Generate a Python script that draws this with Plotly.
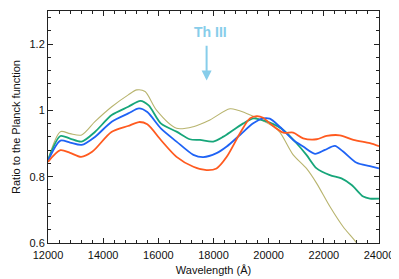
import plotly.graph_objects as go

# Wavelength (Å) and ratio values for each series
orange_x = [12000, 12450, 12800, 13200, 13600, 14300, 14900, 15300, 15600, 16100, 16660, 17270, 17750, 18110, 18480, 18960, 19320, 19570, 19800, 20040, 20530, 20890, 21250, 21740, 22100, 22580, 23070, 23670, 24000]
orange_y = [0.845, 0.880, 0.872, 0.860, 0.875, 0.935, 0.953, 0.965, 0.958, 0.910, 0.860, 0.830, 0.820, 0.825, 0.860, 0.931, 0.976, 0.983, 0.978, 0.961, 0.933, 0.933, 0.916, 0.913, 0.923, 0.925, 0.911, 0.901, 0.892]

blue_x = [12000, 12450, 12800, 13220, 13700, 14310, 14910, 15300, 15600, 16100, 16660, 17270, 17630, 18110, 18480, 18960, 19440, 19800, 20040, 20410, 20890, 21250, 21680, 22040, 22400, 22700, 23190, 23670, 24000]
blue_y = [0.848, 0.909, 0.903, 0.896, 0.920, 0.966, 0.991, 1.006, 0.995, 0.945, 0.906, 0.866, 0.859, 0.871, 0.891, 0.926, 0.961, 0.976, 0.975, 0.950, 0.911, 0.891, 0.869, 0.881, 0.893, 0.876, 0.842, 0.832, 0.825]

green_x = [12000, 12450, 12800, 13220, 13700, 14310, 14910, 15350, 15650, 16100, 16660, 17140, 17510, 17990, 18360, 18720, 19080, 19450, 19700, 20040, 20530, 21010, 21370, 21740, 22220, 22640, 23010, 23430, 23670, 24000]
green_y = [0.850, 0.923, 0.915, 0.906, 0.935, 0.986, 1.011, 1.029, 1.015, 0.960, 0.936, 0.913, 0.911, 0.906, 0.921, 0.941, 0.961, 0.976, 0.972, 0.963, 0.941, 0.901, 0.866, 0.825, 0.805, 0.795, 0.775, 0.740, 0.734, 0.734]

olive_x = [12000, 12450, 12800, 13220, 13700, 14310, 14910, 15220, 15520, 15940, 16660, 17270, 17870, 18600, 19200, 19680, 20170, 20410, 20890, 21370, 21740, 22220, 22700, 23190, 23500]
olive_y = [0.852, 0.936, 0.930, 0.926, 0.966, 1.011, 1.047, 1.062, 1.057, 1.000, 0.946, 0.951, 0.971, 1.005, 0.991, 0.973, 0.951, 0.934, 0.866, 0.825, 0.780, 0.710, 0.649, 0.600, 0.560]

x_ticks = [12000, 14000, 16000, 18000, 20000, 22000, 24000]
y_ticks = [0.6, 0.8, 1.0, 1.2]
y_tick_labels = ["0.6", "0.8", "1", "1.2"]

label_text = "Th III"
label_x = 17880
label_y = 1.236
arrow_x = 17750
arrow_top = 1.200
arrow_tip = 1.090

fig = go.Figure()
series = [
    (olive_x, olive_y, "#b8b46e", 1.1),
    (green_x, green_y, "#17a67a", 1.8),
    (blue_x, blue_y, "#1f63f5", 1.8),
    (orange_x, orange_y, "#ff5a1f", 1.8),
]
for xs, ys, col, w in series:
    fig.add_trace(go.Scatter(x=xs, y=ys, mode="lines", line=dict(color=col, width=w, shape="spline", smoothing=0.8), showlegend=False))

fig.add_annotation(x=arrow_x, y=arrow_tip, ax=arrow_x, ay=arrow_top, xref="x", yref="y", axref="x", ayref="y",
                   showarrow=True, arrowhead=2, arrowsize=1, arrowwidth=2, arrowcolor="#87cdea", text="")
fig.add_annotation(x=label_x, y=label_y, xref="x", yref="y", text="<b>" + label_text + "</b>", showarrow=False,
                   font=dict(family="Liberation Sans, Arial", size=14, color="#87cdea"))

axis_common = dict(showgrid=False, zeroline=False, showline=True, linecolor="#222", linewidth=1, mirror="allticks",
                   ticks="inside", ticklen=5, tickcolor="#222", tickfont=dict(family="Liberation Sans, Arial", size=11, color="#111"))

fig.update_xaxes(range=[12000, 24000], tickvals=x_ticks, ticktext=[str(v) for v in x_ticks],
                 minor=dict(ticks="inside", dtick=400, ticklen=3, tickcolor="#222"),
                 ticklabelstandoff=2,
                 title=dict(text="Wavelength (Å)", font=dict(family="Liberation Sans, Arial", size=11, color="#111"), standoff=6),
                 **axis_common)
fig.update_yaxes(range=[0.6, 1.3], tickvals=y_ticks, ticktext=y_tick_labels,
                 minor=dict(ticks="inside", dtick=0.04, tick0=0.6, ticklen=3, tickcolor="#222"),
                 title=dict(text="Ratio to the Planck function", font=dict(family="Liberation Sans, Arial", size=11, color="#111"), standoff=6),
                 **axis_common)

fig.update_layout(width=391, height=271, margin=dict(l=40, r=20, t=3, b=36),
                  plot_bgcolor="white", paper_bgcolor="white")

fig.write_html("out.html")
